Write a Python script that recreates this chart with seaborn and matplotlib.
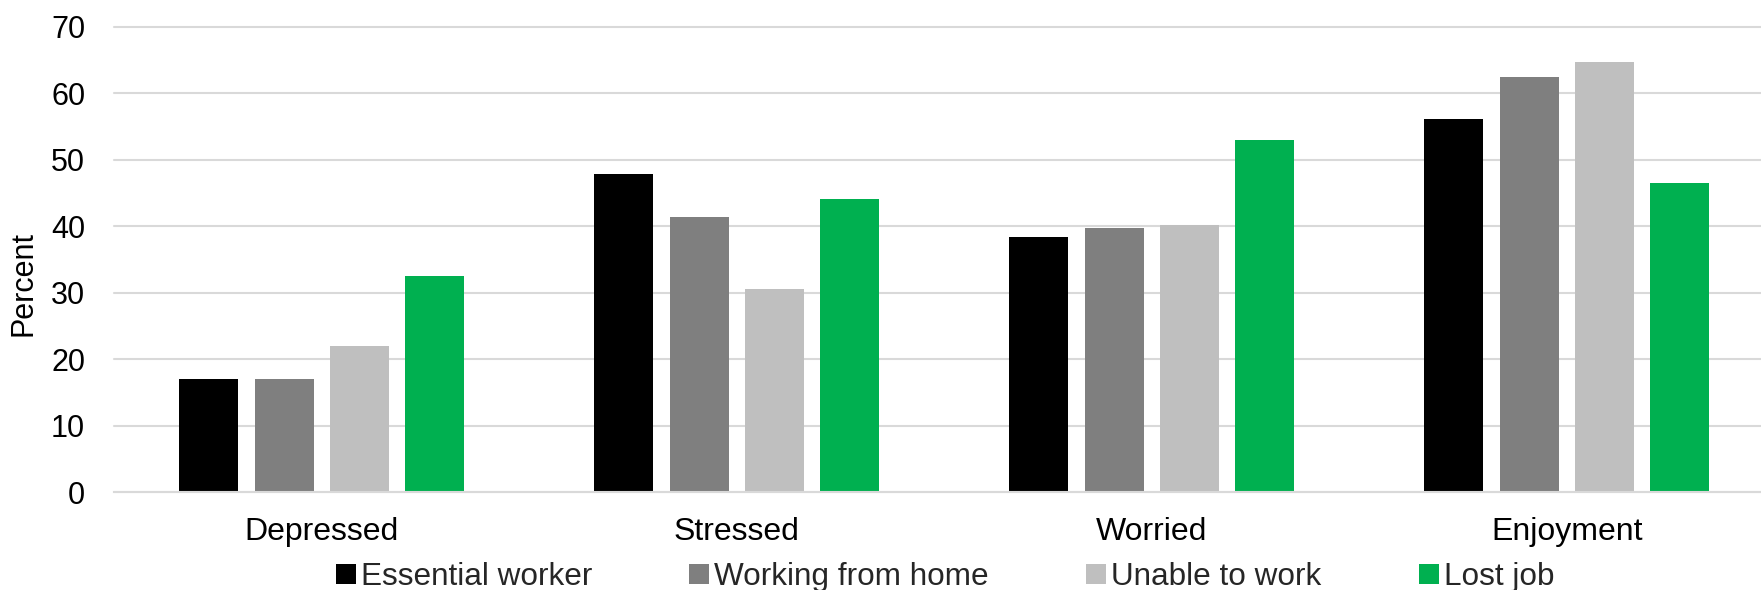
import matplotlib
matplotlib.use("Agg")
import matplotlib.pyplot as plt
import seaborn as sns
import pandas as pd

# Share of respondents reporting each feeling, by employment situation
emotions = ["Depressed", "Stressed", "Worried", "Enjoyment"]
groups = ["Essential worker", "Working from home", "Unable to work", "Lost job"]
essential_worker = [17.0, 47.8, 38.3, 56.1]
working_from_home = [17.0, 41.3, 39.7, 62.4]
unable_to_work = [22.0, 30.6, 40.1, 64.6]
lost_job = [32.5, 44.1, 53.0, 46.5]
group_colors = ["#000000", "#7f7f7f", "#bfbfbf", "#00b050"]
y_ticks = [0, 10, 20, 30, 40, 50, 60, 70]

series = [essential_worker, working_from_home, unable_to_work, lost_job]
rows = []
for g, vals in zip(groups, series):
    for e, v in zip(emotions, vals):
        rows.append({"emotion": e, "group": g, "percent": v})
df = pd.DataFrame(rows)

sns.set_theme(style="white")
plt.rcParams["font.family"] = ["Liberation Sans", "DejaVu Sans"]

W, H = 1761, 590
left_px, right_px, top_px, bottom_px = 114.3, 1774.3, 26.5, 492.3
fig = plt.figure(figsize=(W / 100, H / 100), dpi=100)
ax = fig.add_axes([left_px / W, 1 - bottom_px / H,
                   (right_px - left_px) / W, (bottom_px - top_px) / H])

sns.barplot(
    data=df, x="emotion", y="percent", hue="group",
    order=emotions, hue_order=groups, palette=group_colors,
    width=0.726, gap=0.216, saturation=1, linewidth=0, ax=ax,
)

ax.set_ylim(0, 70)
ax.set_xlim(-0.5, len(emotions) - 0.5)
ax.set_yticks(y_ticks)
ax.yaxis.grid(True, color="#d9d9d9", linewidth=1.5)
for gl in ax.get_ygridlines():
    gl.set_clip_on(False)
ax.set_axisbelow(True)
for side in ["top", "right", "left"]:
    ax.spines[side].set_visible(False)
ax.spines["bottom"].set_color("#d9d9d9")
ax.spines["bottom"].set_linewidth(1.5)

ax.tick_params(axis="y", length=0, pad=21, labelsize=22, labelcolor="#000000")
ax.tick_params(axis="x", length=0, pad=18, labelsize=23, labelcolor="#000000")
ax.set_xlabel("")
ax.set_ylabel("Percent", fontsize=22, color="#000000")
ax.yaxis.label.set_va("center")
ax.yaxis.set_label_coords((24 - left_px) / (right_px - left_px),
                          1 - (284 - top_px) / (bottom_px - top_px))

handles, labels = ax.get_legend_handles_labels()
if ax.get_legend() is not None:
    ax.get_legend().remove()
fig.legend(
    handles, labels, loc="center",
    bbox_to_anchor=(945 / W, 1 - 577 / H), bbox_transform=fig.transFigure,
    ncol=4, frameon=False, fontsize=22.7,
    handlelength=0.635, handleheight=0.635, handletextpad=0.16, columnspacing=3.08,
    borderpad=0.1,
)

fig.savefig("out.png", dpi=100)
